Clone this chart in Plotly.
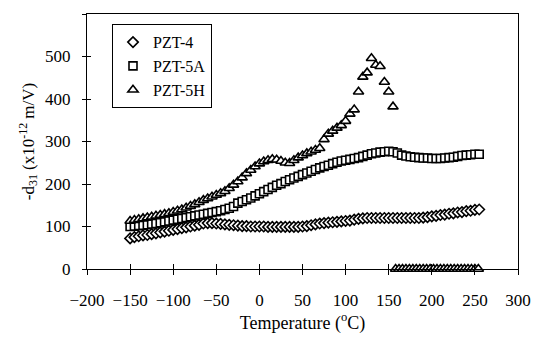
import plotly.graph_objects as go

# Temperatures (deg C) for PZT-4 and PZT-5A
temps = [-150, -145, -140, -135, -130, -125, -120, -115, -110, -105,
         -100, -95, -90, -85, -80, -75, -70, -65, -60, -55,
         -50, -45, -40, -35, -30, -25, -20, -15, -10, -5,
         0, 5, 10, 15, 20, 25, 30, 35, 40, 45,
         50, 55, 60, 65, 70, 75, 80, 85, 90, 95,
         100, 105, 110, 115, 120, 125, 130, 135, 140, 145,
         150, 155, 160, 165, 170, 175, 180, 185, 190, 195,
         200, 205, 210, 215, 220, 225, 230, 235, 240, 245,
         250, 255]

pzt4 = [72, 75, 77, 79, 80, 82, 84, 86, 88, 90,
        92, 94, 96, 98, 100, 102, 104, 107, 108, 108,
        107, 106, 105, 104, 103, 102, 101, 101, 100, 100,
        100, 100, 99, 99, 99, 99, 99, 99, 99, 99,
        100, 101, 103, 105, 107, 108, 109, 110, 111, 112,
        113, 114, 116, 118, 119, 120, 120, 120, 120, 120,
        120, 120, 120, 120, 120, 120, 120, 120, 121, 122,
        124, 125, 127, 128, 130, 131, 133, 134, 136, 137,
        139, 140]

pzt5a = [100, 101, 102, 103, 104, 106, 107, 109, 111, 113,
         115, 117, 119, 121, 123, 125, 127, 129, 131, 133,
         135, 137, 140, 143, 147, 155, 159, 163, 167, 172,
         177, 182, 187, 192, 197, 201, 206, 210, 214, 218,
         222, 226, 230, 234, 238, 241, 244, 248, 251, 254,
         256, 258, 260, 262, 265, 268, 271, 273, 275, 276,
         277, 276, 273, 268, 266, 264, 263, 262, 261, 261,
         260, 260, 260, 261, 262, 263, 265, 267, 268, 269,
         270, 270]

# PZT-5H: temperatures and values (drops to zero above ~155 C)
temps_5h = [-150, -145, -140, -135, -130, -125, -120, -115, -110, -105,
            -100, -95, -90, -85, -80, -75, -70, -65, -60, -55,
            -50, -45, -40, -35, -30, -25, -20, -15, -10, -5,
            0, 5, 10, 15, 20, 25, 30, 35, 40, 45,
            50, 55, 60, 65, 70, 75, 80, 85, 90, 95,
            100, 105, 110, 115, 120, 125, 130, 135, 140, 145,
            150, 155,
            158, 162, 166, 170, 174, 178, 182, 186, 190, 194,
            198, 202, 206, 210, 214, 218, 222, 226, 230, 234,
            238, 242, 246, 250, 254]

pzt5h = [113, 115, 117, 119, 121, 123, 125, 127, 129, 131,
         134, 137, 140, 144, 148, 152, 157, 162, 166, 170,
         174, 178, 183, 190, 198, 206, 215, 225, 233, 241,
         248, 253, 256, 258, 257, 254, 250, 249, 256, 262,
         267, 272, 276, 280, 284, 305, 318, 325, 332, 338,
         348, 365, 375, 417, 452, 462, 496, 480, 477, 440,
         417, 382,
         0, 0, 0, 0, 0, 0, 0, 0, 0, 0,
         0, 0, 0, 0, 0, 0, 0, 0, 0, 0,
         0, 0, 0, 0, 0]

x_ticks = [-200, -150, -100, -50, 0, 50, 100, 150, 200, 250, 300]
x_labels = ["\u2212200", "\u2212150", "\u2212100", "\u221250", "0", "50", "100",
            "150", "200", "250", "300"]
y_ticks = [0, 100, 200, 300, 400, 500, 600]
y_labels = ["0", "100", "200", "300", "400", "500", "600"]

FONT = "Liberation Serif, Times New Roman, serif"
mline = dict(color="black", width=1.6)

fig = go.Figure()
fig.add_trace(go.Scatter(x=temps, y=pzt4, mode="markers", name="PZT-4",
                         marker=dict(symbol="diamond", size=8, color="white", line=mline),
                         cliponaxis=False))
fig.add_trace(go.Scatter(x=temps, y=pzt5a, mode="markers", name="PZT-5A",
                         marker=dict(symbol="square", size=8, color="white", line=mline),
                         cliponaxis=False))
fig.add_trace(go.Scatter(x=temps_5h, y=pzt5h, mode="markers", name="PZT-5H",
                         marker=dict(symbol="triangle-up", size=9, color="white", line=mline),
                         cliponaxis=False))
# helper trace for the inner half of crossing tick marks
fig.add_trace(go.Scatter(x=[None], y=[None], xaxis="x2", yaxis="y2",
                         showlegend=False, hoverinfo="skip"))

# page body has an 8px margin, so the figure is sized/offset to compensate
fig.update_layout(
    width=538, height=330,
    margin=dict(l=79, r=28, t=6, b=69, autoexpand=False),
    paper_bgcolor="white", plot_bgcolor="white",
    font=dict(family=FONT, size=17, color="black"),
    showlegend=True,
    legend=dict(x=0.058, y=0.96, xanchor="left", yanchor="top",
                bgcolor="white", bordercolor="black", borderwidth=1,
                font=dict(family=FONT, size=16, color="black")),
    xaxis=dict(range=[-200, 300], tickvals=x_ticks, ticktext=x_labels,
               ticks="outside", ticklen=5, tickwidth=1, tickcolor="black",
               showline=True, linecolor="black", linewidth=1, mirror=True,
               showgrid=False, zeroline=False, ticklabelstandoff=11, automargin=False,
               tickfont=dict(family=FONT, size=17),
               title=dict(text="Temperature (<sup>o</sup>C)", standoff=0,
                          font=dict(family=FONT, size=18))),
    yaxis=dict(range=[0, 600], tickvals=y_ticks, ticktext=y_labels,
               ticks="outside", ticklen=4, tickwidth=1, tickcolor="black",
               showline=True, linecolor="black", linewidth=1, mirror=True,
               showgrid=False, zeroline=False, ticklabelstandoff=8, automargin=False,
               tickfont=dict(family=FONT, size=17),
               title=dict(text="-d<sub>31</sub> (x10<sup>-12</sup> m/V)", standoff=6,
                          font=dict(family=FONT, size=17))),
    xaxis2=dict(range=[-200, 300], overlaying="x", anchor="y2", tickvals=x_ticks,
                ticks="inside", ticklen=5, tickwidth=1, tickcolor="black",
                showticklabels=False, showline=False, showgrid=False, zeroline=False),
    yaxis2=dict(range=[0, 600], overlaying="y", anchor="x2", side="left", tickvals=y_ticks,
                ticks="inside", ticklen=4, tickwidth=1, tickcolor="black",
                showticklabels=False, showline=False, showgrid=False, zeroline=False),
)

fig.write_html("out.html")
